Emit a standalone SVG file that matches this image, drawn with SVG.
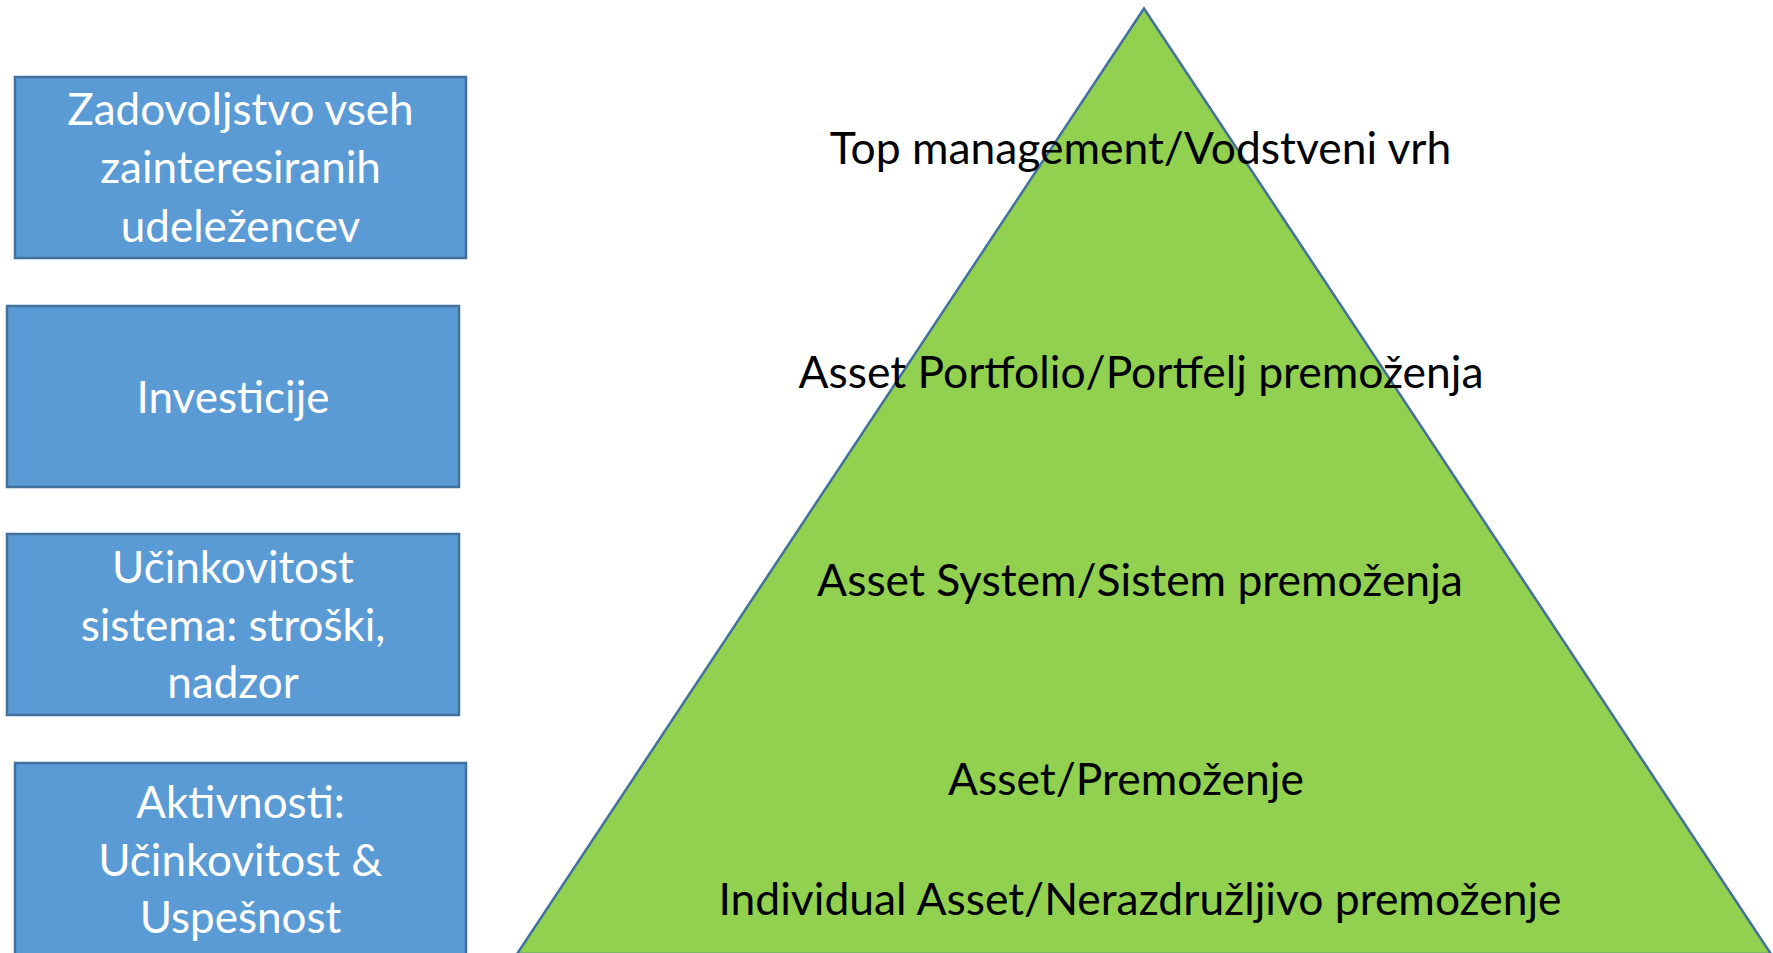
<svg xmlns="http://www.w3.org/2000/svg" width="1773" height="953" viewBox="0 0 1773 953">
<style>
.box{fill:#5B9BD5;stroke:#41719C;stroke-width:2.5}
.bt{font-family:Lato,"Open Sans",sans-serif;font-size:44px;fill:#FFFFFF;text-anchor:middle}
.pt{font-family:Lato,"Open Sans",sans-serif;font-size:44.4px;fill:#000000;text-anchor:middle}
.tri{fill:#92D050;stroke:#41719C;stroke-width:2.5}
</style>
<rect width="1773" height="953" fill="#FFFFFF"/>
<g id="pyramid">
<polygon class="tri" points="1144,8.5 517,954 1771,954"/>
</g>
<g id="box1">
<rect class="box" x="15" y="77" width="451" height="181"/>
<text class="bt" x="240.5" y="125">Zadovoljstvo vseh</text>
<text class="bt" x="240.5" y="183">zainteresiranih</text>
<text class="bt" x="240.5" y="242">udeležencev</text>
</g>
<g id="box2">
<rect class="box" x="7" y="306" width="452" height="181"/>
<text class="bt" x="233" y="413">Investicije</text>
</g>
<g id="box3">
<rect class="box" x="7" y="534" width="452" height="181"/>
<text class="bt" x="233" y="583">Učinkovitost</text>
<text class="bt" x="233" y="641">sistema: stroški,</text>
<text class="bt" x="233" y="698">nadzor</text>
</g>
<g id="box4">
<rect class="box" x="15" y="763" width="451" height="200"/>
<text class="bt" x="240.5" y="818">Aktivnosti:</text>
<text class="bt" x="240.5" y="876">Učinkovitost &amp;</text>
<text class="bt" x="240.5" y="933">Uspešnost</text>
</g>
<g id="labels">
<text class="pt" x="1140.5" y="164">Top management/Vodstveni vrh</text>
<text class="pt" x="1141" y="388">Asset Portfolio/Portfelj premoženja</text>
<text class="pt" x="1140" y="596">Asset System/Sistem premoženja</text>
<text class="pt" x="1126" y="795">Asset/Premoženje</text>
<text class="pt" x="1140" y="915">Individual Asset/Nerazdružljivo premoženje</text>
</g>
<g id="connectors"></g>
</svg>
